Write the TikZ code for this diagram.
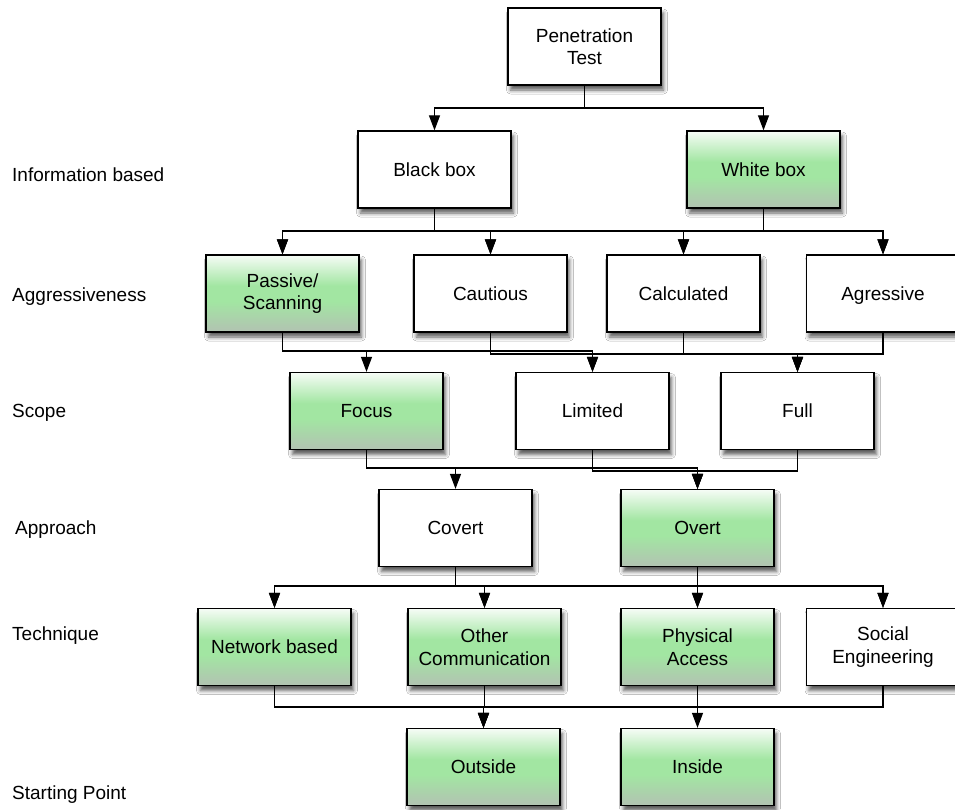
\documentclass[tikz,border=0pt]{standalone}
\usepackage{fontspec}
\setmainfont{Liberation Sans}
\usetikzlibrary{arrows.meta,shadows.blur}
\definecolor{gtop}{RGB}{246,252,246}
\definecolor{gmid}{RGB}{162,230,162}
\definecolor{gbot}{RGB}{178,194,178}
\pgfdeclareverticalshading{greenbox}{100bp}{color(0bp)=(gbot); color(25bp)=(gbot); color(45bp)=(gmid); color(55bp)=(gmid); color(75bp)=(gtop); color(100bp)=(gtop)}
\begin{document}
\begin{tikzpicture}[x=1pt,y=-1pt,
  box/.style={draw=black, line width=1.3pt, minimum width=153pt, minimum height=77pt, inner sep=0pt, align=center,
    font=\fontsize{19}{22.5}\selectfont,
    blur shadow={shadow xshift=2.5pt, shadow yshift=-5pt, shadow blur radius=4pt, shadow opacity=65}},
  wbox/.style={box, fill=white},
  gbox/.style={box, shading=greenbox},
  lab/.style={anchor=west, font=\fontsize{19}{22.5}\selectfont, inner sep=0pt},
  conn/.style={line width=1.2pt, -{Triangle[length=15pt,width=11pt]}}]
\useasboundingbox (0,0) rectangle (955,809);
\clip (0,0) rectangle (955,809);
\fill[white] (0,0) rectangle (955,809);

% left labels
\node[lab] (l1) at (12,175) {Information based};
\node[lab] (l2) at (12,297) {Aggressiveness};
\node[lab] (l3) at (12,413) {Scope};
\node[lab] (l4) at (15,530) {Approach};
\node[lab] (l5) at (12,636) {Technique};
\node[lab] (l6) at (12,795) {Starting Point};

% boxes
\node[wbox] (pt) at (584.5,46.5) {Penetration\\Test};
\node[wbox] (black) at (434.5,169.5) {Black box};
\node[gbox] (white) at (763.5,169.5) {White box};

\node[gbox] (passive) at (282.5,293.5) {Passive/\\Scanning};
\node[wbox] (cautious) at (490.5,293.5) {Cautious};
\node[wbox] (calculated) at (683.5,293.5) {Calculated};
\node[wbox] (agressive) at (883,293.5) {\raisebox{0pt}[\height][0pt]{Agressive}};

\node[gbox] (focus) at (366.5,411) {Focus};
\node[wbox] (limited) at (592.5,411) {Limited};
\node[wbox] (full) at (797.5,411) {Full};

\node[wbox] (covert) at (455.5,528) {Covert};
\node[gbox] (overt) at (697.5,528) {Overt};

\node[gbox] (network) at (274.5,647) {Network based};
\node[gbox] (other) at (484.5,647) {Other\\Communication};
\node[gbox] (physical) at (697.5,647) {Physical\\Access};
\node[wbox] (social) at (883,647) {Social\\Engineering};

\node[gbox] (outside) at (483.5,767) {Outside};
\node[gbox] (inside) at (697.5,767) {Inside};

% bus levels
\coordinate (b0) at (0,108);
\coordinate (b1) at (0,231);
\coordinate (b2a) at (0,351);
\coordinate (b2b) at (0,354);
\coordinate (b3a) at (0,468);
\coordinate (b3b) at (0,471);
\coordinate (b4) at (0,586);
\coordinate (b5) at (0,707);

% connectors
\foreach \c in {black,white}
  \draw[conn] (pt.south) -- (pt.south |- b0) -| (\c.north);
\foreach \p in {black,white}
  \foreach \c in {passive,cautious,calculated,agressive}
    \draw[conn] (\p.south) -- (\p.south |- b1) -| (\c.north);
\foreach \c in {focus,limited}
  \draw[conn] (passive.south) -- (passive.south |- b2a) -| (\c.north);
\foreach \c in {limited,full}
  \draw[conn] (cautious.south) -- (cautious.south |- b2b) -| (\c.north);
\foreach \p in {calculated,agressive}
  \draw[conn] (\p.south) -- (\p.south |- b2b) -| (full.north);
\foreach \c in {covert,overt}
  \draw[conn] (focus.south) -- (focus.south |- b3a) -| (\c.north);
\foreach \p in {limited,full}
  \draw[conn] (\p.south) -- (\p.south |- b3b) -| (overt.north);
\foreach \p in {covert,overt}
  \foreach \c in {network,other,physical,social}
    \draw[conn] (\p.south) -- (\p.south |- b4) -| (\c.north);
\foreach \p in {network,other,social}
  \draw[conn] (\p.south) -- (\p.south |- b5) -| (outside.north);
\draw[conn] (physical.south) -- (physical.south |- b5) -| (inside.north);
\end{tikzpicture}
\end{document}
